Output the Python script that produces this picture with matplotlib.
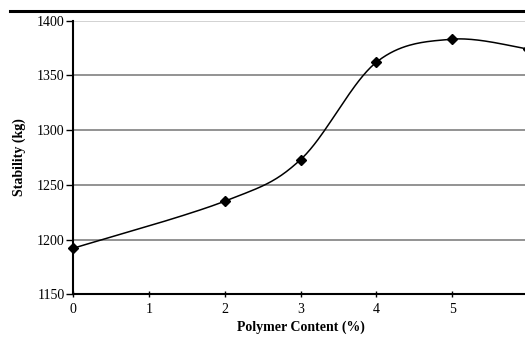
import matplotlib.pyplot as plt
import numpy as np
from matplotlib.lines import Line2D

polymer = [0, 2, 3, 4, 5, 6]
stability = [1192, 1235, 1273, 1362, 1383, 1374]
yticks = [1150, 1200, 1250, 1300, 1350, 1400]
xticks = [0, 1, 2, 3, 4, 5, 6]


def smooth(x, y, n=40):
    # cubic bezier through the points, control points from neighbours (1/6 tension)
    p = np.column_stack([x, y]).astype(float)
    p = np.vstack([p[0], p, p[-1]])
    out = []
    for i in range(1, len(p) - 2):
        p0, p3 = p[i], p[i + 1]
        c1 = p0 + (p[i + 1] - p[i - 1]) / 6
        c2 = p3 - (p[i + 2] - p[i]) / 6
        t = np.linspace(0, 1, n)[:, None]
        seg = ((1 - t) ** 3) * p0 + 3 * ((1 - t) ** 2) * t * c1 + 3 * (1 - t) * t ** 2 * c2 + t ** 3 * p3
        out.append(seg if i == 1 else seg[1:])
    s = np.vstack(out)
    return s[:, 0], s[:, 1]


plt.rcParams['font.family'] = 'Liberation Serif'

fig = plt.figure(figsize=(5.25, 3.43), dpi=100)
ax = fig.add_axes([0.139, 0.142, 0.867, 0.798])

sx, sy = smooth(polymer, stability)
ax.plot(sx, sy, color='black', lw=1.1, zorder=3)
ax.plot(polymer, stability, ls='none', marker='D', ms=5, color='black', zorder=4, clip_on=False)

ax.set_xlim(0, 6)
ax.set_ylim(1150, 1400)
ax.set_xticks(xticks)
ax.set_yticks(yticks)
ax.yaxis.grid(True, color='#8a8a8a', lw=1.3)
ax.set_axisbelow(True)
for g, v in zip(ax.get_ygridlines(), yticks):
    if v == 1400:
        g.set_color('#cfcfcf')

for side in ['top', 'right']:
    ax.spines[side].set_visible(False)
for side in ['left', 'bottom']:
    ax.spines[side].set_linewidth(1.5)

ax.tick_params(axis='y', direction='out', length=5, width=1, labelsize=10, pad=1)
ax.tick_params(axis='x', direction='inout', length=5, width=1, labelsize=10, pad=4)

ax.set_xlabel('Polymer Content (%)', fontsize=10, fontweight='bold', labelpad=3)
ax.set_ylabel('Stability (kg)', fontsize=10, fontweight='bold', labelpad=8)

# rule across the top of the figure
fig.add_artist(Line2D([0.019, 1.0], [0.968, 0.968], color='black', lw=2.2))

fig.savefig('out.png', dpi=100)
